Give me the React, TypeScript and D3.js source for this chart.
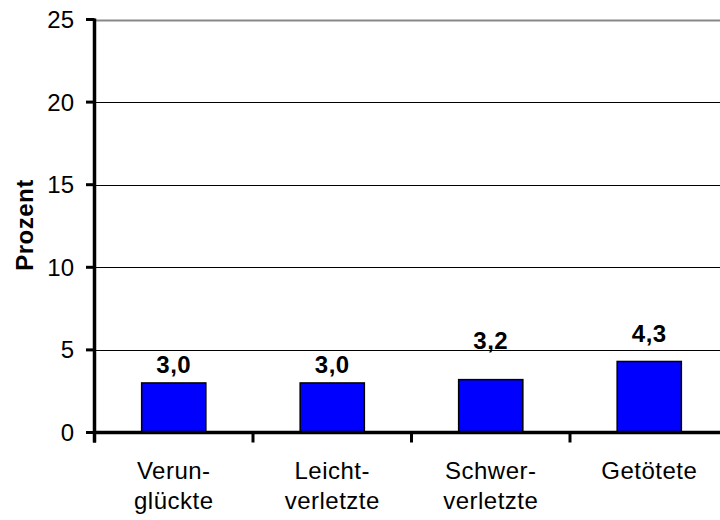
import { useEffect, useRef } from 'react';
import * as d3 from 'd3';

const categories = ["Verun-\nglückte", "Leicht-\nverletzte", "Schwer-\nverletzte", "Getötete"];
const values = [3.0, 3.0, 3.2, 4.3];
const valueLabels = ["3,0", "3,0", "3,2", "4,3"];
const labelLift = [10, 10, 31, 19];
const yTicks = [0, 5, 10, 15, 20, 25];

export default function App() {
  const svgRef = useRef<SVGSVGElement>(null);

  useEffect(() => {
    if (!svgRef.current) return;
    const font = "'Liberation Sans', Arial, sans-serif";

    const svg = d3.select(svgRef.current);
    svg.selectAll("*").remove();

    const y = d3.scaleLinear().domain([0, 25]).range([432.5, 19.5]);
    const x = d3.scaleBand<string>()
      .domain(categories)
      .range([94.5, 728.5])
      .paddingInner(0.595)
      .paddingOuter(0.2975);
    const step = x.step();
    const x0 = 94.5;

    // gridlines
    svg.append("g")
      .selectAll("line")
      .data(yTicks.filter(t => t > 0))
      .join("line")
      .attr("x1", x0)
      .attr("x2", 720)
      .attr("y1", d => Math.round(y(d)) + 0.5)
      .attr("y2", d => Math.round(y(d)) + 0.5)
      .attr("stroke", d => d === 25 ? "#888" : "#000")
      .attr("stroke-width", d => d === 25 ? 2 : 1);

    // bars
    svg.append("g")
      .selectAll("rect")
      .data(values)
      .join("rect")
      .attr("x", (_, i) => x(categories[i])!)
      .attr("y", d => y(d))
      .attr("width", x.bandwidth())
      .attr("height", d => y(0) - y(d))
      .attr("fill", "#0000ff")
      .attr("stroke", "#000")
      .attr("stroke-width", 1.5);

    // value labels
    svg.append("g")
      .selectAll("text")
      .data(values)
      .join("text")
      .attr("x", (_, i) => x(categories[i])! + x.bandwidth() / 2)
      .attr("y", (d, i) => y(d) - labelLift[i])
      .attr("text-anchor", "middle")
      .attr("font-family", font)
      .attr("font-weight", "bold")
      .attr("font-size", "24px")
      .attr("letter-spacing", "0.5px")
      .attr("fill", "#000")
      .text((_, i) => valueLabels[i]);

    // y axis
    svg.append("line")
      .attr("x1", x0).attr("x2", x0)
      .attr("y1", y(25) - 1).attr("y2", y(0) + 10)
      .attr("stroke", "#000").attr("stroke-width", 3.5);
    svg.append("g")
      .selectAll("line")
      .data(yTicks)
      .join("line")
      .attr("x1", 86).attr("x2", x0)
      .attr("y1", d => y(d)).attr("y2", d => y(d))
      .attr("stroke", "#000").attr("stroke-width", 3);
    svg.append("g")
      .selectAll("text")
      .data(yTicks)
      .join("text")
      .attr("x", 74)
      .attr("y", d => y(d) + 8.5)
      .attr("text-anchor", "end")
      .attr("font-family", font)
      .attr("font-size", "24px")
      .attr("fill", "#000")
      .text(d => d3.format("d")(d));

    // x axis
    svg.append("line")
      .attr("x1", x0).attr("x2", 720)
      .attr("y1", y(0)).attr("y2", y(0))
      .attr("stroke", "#000").attr("stroke-width", 3.5);
    svg.append("g")
      .selectAll("line")
      .data(d3.range(categories.length + 1))
      .join("line")
      .attr("x1", i => x0 + i * step).attr("x2", i => x0 + i * step)
      .attr("y1", y(0)).attr("y2", y(0) + 10)
      .attr("stroke", "#000").attr("stroke-width", 3);

    // category labels
    const cat = svg.append("g")
      .selectAll("text")
      .data(categories)
      .join("text")
      .attr("x", d => x(d)! + x.bandwidth() / 2)
      .attr("y", 479)
      .attr("text-anchor", "middle")
      .attr("font-family", font)
      .attr("font-size", "24px")
      .attr("letter-spacing", "0.5px")
      .attr("fill", "#000");
    cat.selectAll("tspan")
      .data(d => d.split("\n").map(s => ({ s, cx: x(d)! + x.bandwidth() / 2 })))
      .join("tspan")
      .attr("x", d => d.cx)
      .attr("dy", (_, i) => i === 0 ? 0 : 30)
      .text(d => d.s);

    // y axis title
    svg.append("text")
      .attr("transform", `translate(33,225) rotate(-90)`)
      .attr("text-anchor", "middle")
      .attr("font-family", font)
      .attr("font-weight", "bold")
      .attr("font-size", "24px")
      .attr("letter-spacing", "0.5px")
      .attr("fill", "#000")
      .text("Prozent");
  }, []);

  return (
    <svg
      ref={svgRef}
      width={720}
      height={520}
      style={{ position: "absolute", left: 0, top: 0, background: "#fff" }}
    />
  );
}
